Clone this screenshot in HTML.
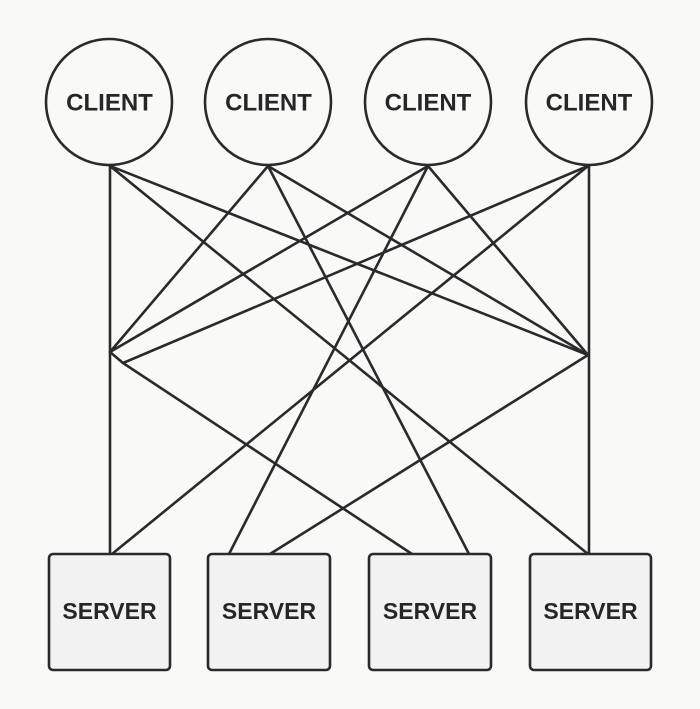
<!DOCTYPE html>
<html>
<head>
<meta charset="utf-8">
<style>
  html, body { margin: 0; padding: 0; background: #f9f9f8; }
  svg { display: block; }
  text { font-family: "Liberation Sans", "DejaVu Sans", sans-serif; font-weight: bold; fill: #262626; }
</style>
</head>
<body>
<svg width="700" height="709" viewBox="0 0 700 709" xmlns="http://www.w3.org/2000/svg">
  <rect x="0" y="0" width="700" height="709" fill="#f9f9f8"/>
  <g stroke="#2a2a2a" stroke-width="2.6" fill="none" stroke-linecap="round" stroke-linejoin="round">
    <!-- verticals -->
    <line x1="110" y1="165" x2="110" y2="554"/>
    <line x1="589" y1="165" x2="589" y2="554"/>
    <!-- C1 -->
    <line x1="110" y1="166" x2="588" y2="355"/>
    <line x1="110" y1="166" x2="588" y2="554"/>
    <!-- C2 -->
    <line x1="268" y1="166" x2="110" y2="352"/>
    <line x1="268" y1="166" x2="469" y2="554"/>
    <line x1="268" y1="166" x2="588" y2="355"/>
    <!-- C3 -->
    <line x1="428" y1="166" x2="110" y2="352"/>
    <line x1="428" y1="166" x2="229" y2="554"/>
    <line x1="428" y1="166" x2="588" y2="355"/>
    <!-- C4 -->
    <line x1="588" y1="166" x2="123" y2="363"/>
    <line x1="588" y1="166" x2="112" y2="554"/>
    <!-- left hub to S3 -->
    <polyline points="110,352 123,363 412,554"/>
    <!-- right hub to S2 -->
    <line x1="588" y1="355" x2="270" y2="554"/>
  </g>
  <g stroke="#2a2a2a" stroke-width="2.6" fill="#f9f9f8">
    <circle cx="109" cy="102" r="63"/>
    <circle cx="268" cy="102" r="63"/>
    <circle cx="428" cy="102" r="63"/>
    <circle cx="589" cy="102" r="63"/>
  </g>
  <g stroke="#2a2a2a" stroke-width="2.6" fill="#f2f2f2">
    <rect x="49" y="554" width="121" height="116" rx="4"/>
    <rect x="208" y="554" width="122" height="116" rx="4"/>
    <rect x="369" y="554" width="122" height="116" rx="4"/>
    <rect x="530" y="554" width="121" height="116" rx="4"/>
  </g>
  <g font-size="24" text-anchor="middle">
    <text x="109.5" y="110.5">CLIENT</text>
    <text x="268.5" y="110.5">CLIENT</text>
    <text x="428" y="110.5">CLIENT</text>
    <text x="589" y="110.5">CLIENT</text>
  </g>
  <g font-size="23" text-anchor="middle">
    <text x="109.5" y="619">SERVER</text>
    <text x="269" y="619">SERVER</text>
    <text x="430" y="619">SERVER</text>
    <text x="590.5" y="619">SERVER</text>
  </g>
</svg>
</body>
</html>
